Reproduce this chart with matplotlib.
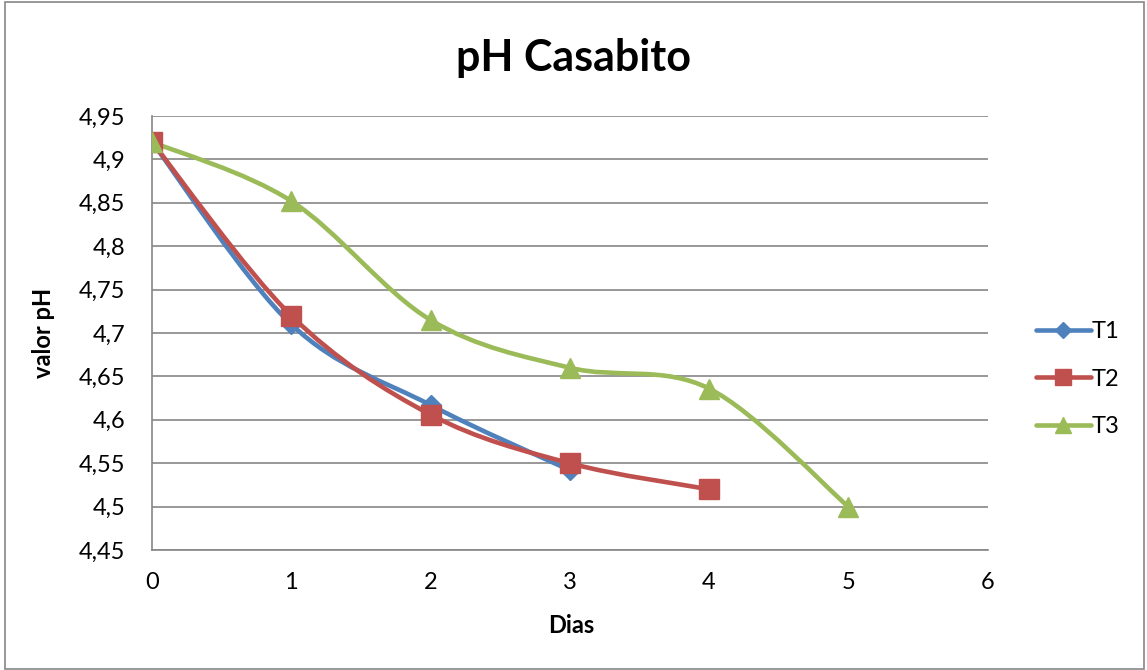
import matplotlib
matplotlib.use("Agg")
import matplotlib.pyplot as plt
from matplotlib.lines import Line2D
from matplotlib.patches import PathPatch, Rectangle
from matplotlib.path import Path
import numpy as np

plt.rcParams["font.family"] = ["Lato", "DejaVu Sans"]

days = [0, 1, 2, 3, 4, 5]
t1 = [4.92, 4.71, 4.617, 4.542]
t2 = [4.92, 4.72, 4.606, 4.55, 4.52]
t3 = [4.92, 4.852, 4.715, 4.66, 4.636, 4.50]
names = ["T1", "T2", "T3"]
colors = ["#4F81BD", "#C0504D", "#9BBB59"]
markers = ["D", "s", "^"]
msizes = [10, 14, 14]
yticks = [4.45, 4.5, 4.55, 4.6, 4.65, 4.7, 4.75, 4.8, 4.85, 4.9, 4.95]
xticks = [0, 1, 2, 3, 4, 5, 6]


def smooth_path(x, y):
    # Excel-style smoothed line: cubic Bezier through the points
    pts = np.column_stack([x, y]).astype(float)
    ext = np.vstack([pts[0], pts, pts[-1]])
    verts = [pts[0]]
    codes = [Path.MOVETO]
    for i in range(1, len(ext) - 2):
        p0, p1, p2, p3 = ext[i - 1], ext[i], ext[i + 1], ext[i + 2]
        verts += [p1 + (p2 - p0) / 6, p2 - (p3 - p1) / 6, p2]
        codes += [Path.CURVE4] * 3
    return Path(verts, codes)


fig = plt.figure(figsize=(11.47, 6.70), dpi=100)
ax = fig.add_axes([0.1325, 0.179, 0.7285, 0.648])

handles = []
for vals, name, c, m, ms in zip([t1, t2, t3], names, colors, markers, msizes):
    xs = days[:len(vals)]
    ax.add_patch(PathPatch(smooth_path(xs, vals), fill=False, edgecolor=c,
                           lw=3.3, capstyle="round", joinstyle="round", zorder=3))
    ax.plot(xs, vals, ls="none", marker=m, ms=ms, color=c, zorder=4)
    handles.append(Line2D([], [], color=c, lw=3.3, marker=m, ms=ms * 0.85,
                          solid_capstyle="round", label=name))

ax.set_xlim(0, 6)
ax.set_ylim(4.45, 4.95)
ax.set_xticks(xticks)
ax.set_yticks(yticks)
ax.set_yticklabels([f"{v:g}".replace(".", ",") for v in yticks])
ax.tick_params(length=0, labelsize=17)
ax.tick_params(axis="x", pad=16)
ax.tick_params(axis="y", pad=19)
ax.grid(axis="y", color="#868686", lw=1.2)
ax.set_axisbelow(True)
for s in ("top", "right"):
    ax.spines[s].set_visible(False)
for s in ("left", "bottom"):
    ax.spines[s].set_color("#868686")
    ax.spines[s].set_linewidth(1.2)

fig.text(0.5, 0.913, "pH Casabito", ha="center", va="center",
         fontsize=31, fontweight="bold")
fig.text(0.498, 0.066, "Dias", ha="center", va="center",
         fontsize=17, fontweight="bold")
fig.text(0.038, 0.503, "valor pH", ha="center", va="center", rotation=90,
         fontsize=17, fontweight="bold")

fig.legend(handles=handles, loc="center left", bbox_to_anchor=(0.885, 0.434),
           frameon=False, fontsize=17, handlelength=2.3, handletextpad=0.05,
           labelspacing=1.12)

fig.add_artist(Rectangle((0.004, 0.002), 0.993, 0.995, transform=fig.transFigure,
                         fill=False, edgecolor="#868686", lw=1.2))

fig.savefig("out.png", dpi=100)
